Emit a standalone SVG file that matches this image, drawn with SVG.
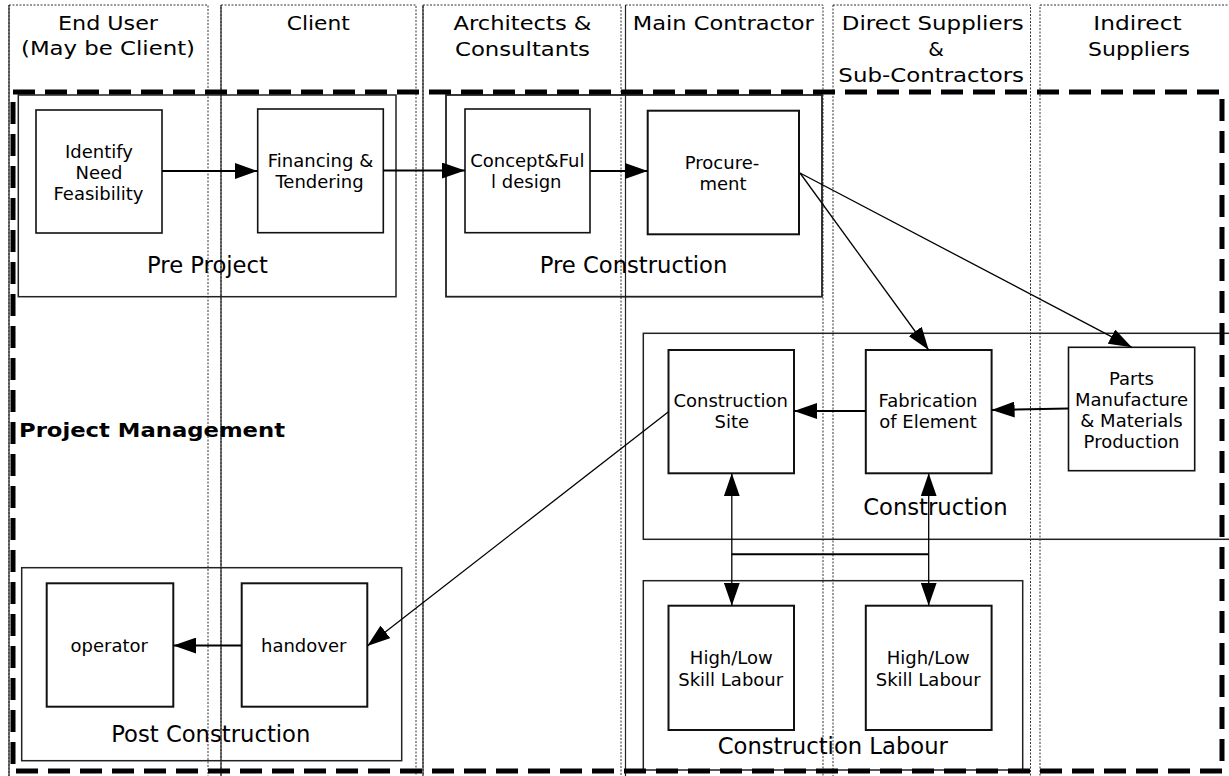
<svg xmlns="http://www.w3.org/2000/svg" width="1229" height="776" viewBox="0 0 1229 776">
<style>
text{font-family:"DejaVu Sans","Liberation Sans",sans-serif;fill:#000}
.hdr{font-size:20px;text-anchor:middle}
.nt{font-size:18px;text-anchor:middle}
.ct{font-size:22.7px;text-anchor:middle}
.pm{font-size:19px;font-weight:bold}
.lane{fill:none;stroke:#333;stroke-width:1;stroke-dasharray:2 1.5}
.lsolid{stroke:#222;stroke-width:1.2}
.cont{fill:none;stroke:#222;stroke-width:1.5}
.box{fill:none;stroke:#111;stroke-width:2}
.c{fill:none;stroke:#000}
.thick{stroke-width:2}
.thin{stroke-width:1.3}
.pmb{fill:none;stroke:#000;stroke-width:5;stroke-dasharray:22 10}
</style>
<defs>
<marker id="ah" markerUnits="userSpaceOnUse" viewBox="0 0 24 16" markerWidth="24" markerHeight="16" refX="23" refY="8" orient="auto-start-reverse">
<path d="M0,0 L23,8 L0,16 z" fill="#000"/>
</marker>
</defs>
<rect width="1229" height="776" fill="#fff"/>

<g id="lanes">
<g id="lane-end-user">
<rect class="lane" x="9" y="5" width="199" height="780"/>
<line class="lsolid" x1="9" y1="5" x2="9" y2="776"/>
<text class="hdr" x="108" y="30" textLength="100" lengthAdjust="spacingAndGlyphs">End User</text>
<text class="hdr" x="108" y="55" textLength="174" lengthAdjust="spacingAndGlyphs">(May be Client)</text>
</g>
<g id="lane-client">
<rect class="lane" x="221" y="5" width="195" height="780"/>
<line class="lsolid" x1="221" y1="5" x2="221" y2="776"/>
<text class="hdr" x="318.3" y="30" textLength="63" lengthAdjust="spacingAndGlyphs">Client</text>
</g>
<g id="lane-architects">
<rect class="lane" x="423" y="5" width="198" height="780"/>
<line class="lsolid" x1="423" y1="5" x2="423" y2="776"/>
<text class="hdr" x="522.5" y="30" textLength="138" lengthAdjust="spacingAndGlyphs">Architects &amp;</text>
<text class="hdr" x="522.5" y="56" textLength="135" lengthAdjust="spacingAndGlyphs">Consultants</text>
</g>
<g id="lane-main-contractor">
<rect class="lane" x="625.5" y="5" width="197.5" height="780"/>
<line class="lsolid" x1="625.5" y1="5" x2="625.5" y2="776"/>
<text class="hdr" x="723.3" y="30" textLength="181" lengthAdjust="spacingAndGlyphs">Main Contractor</text>
</g>
<g id="lane-direct-suppliers">
<rect class="lane" x="833" y="5" width="197.5" height="780"/>
<text class="hdr" x="932.8" y="30" textLength="182" lengthAdjust="spacingAndGlyphs">Direct Suppliers</text>
<text class="hdr" x="936" y="56">&amp;</text>
<text class="hdr" x="931.2" y="82" textLength="185.7" lengthAdjust="spacingAndGlyphs">Sub-Contractors</text>
</g>
<g id="lane-indirect-suppliers">
<rect class="lane" x="1040" y="5" width="195" height="780"/>
<text class="hdr" x="1137.5" y="30" textLength="88.3" lengthAdjust="spacingAndGlyphs">Indirect</text>
<text class="hdr" x="1139" y="56" textLength="102" lengthAdjust="spacingAndGlyphs">Suppliers</text>
</g>
</g>

<g id="pre-project">
<rect class="cont" x="18.3" y="95" width="377.7" height="201.7"/>
<text class="ct" x="207.5" y="272.7">Pre Project</text>
</g>
<g id="pre-construction">
<rect class="cont" x="446" y="95" width="376" height="201.7" style="stroke-width:1.8"/>
<text class="ct" x="633.5" y="272.7">Pre Construction</text>
</g>
<g id="construction">
<rect class="cont" x="643.3" y="333.3" width="600" height="206"/>
<text class="ct" x="935.4" y="515">Construction</text>
</g>
<g id="construction-labour">
<rect class="cont" x="643.3" y="580.7" width="379.4" height="189.3"/>
<text class="ct" x="832.8" y="754">Construction Labour</text>
</g>
<g id="post-construction">
<rect class="cont" x="21.7" y="567.7" width="380" height="193"/>
<text class="ct" x="210.8" y="741.7">Post Construction</text>
</g>

<g id="identify">
<rect class="box" x="36" y="110" width="126" height="123" style="stroke-width:1.6"/>
<text class="nt" x="99" y="158">Identify</text>
<text class="nt" x="99" y="179">Need</text>
<text class="nt" x="98.5" y="200">Feasibility</text>
</g>
<g id="financing">
<rect class="box" x="257.7" y="109" width="125.6" height="123.7" style="stroke-width:1.6"/>
<text class="nt" x="320.5" y="166.7">Financing &amp;</text>
<text class="nt" x="319.5" y="187.5">Tendering</text>
</g>
<g id="concept">
<rect class="box" x="465" y="109" width="125" height="123.7" style="stroke-width:1.6"/>
<text class="nt" x="527.3" y="167">Concept&amp;Ful</text>
<text class="nt" x="526.3" y="187.5">l design</text>
</g>
<g id="procurement">
<rect class="box" x="647.7" y="110.7" width="151.3" height="123.6"/>
<text class="nt" x="722" y="169">Procure-</text>
<text class="nt" x="723" y="190">ment</text>
</g>
<g id="construction-site">
<rect class="box" x="668.5" y="350" width="125.5" height="123.3"/>
<text class="nt" x="730.7" y="407.3">Construction</text>
<text class="nt" x="731.8" y="428.3">Site</text>
</g>
<g id="fabrication">
<rect class="box" x="865.8" y="350" width="125.8" height="123.3"/>
<text class="nt" x="928" y="407.3">Fabrication</text>
<text class="nt" x="928" y="428.3">of Element</text>
</g>
<g id="parts">
<rect class="box" x="1068.5" y="347.3" width="126.2" height="123.4" style="stroke-width:1.6"/>
<text class="nt" x="1131.5" y="385">Parts</text>
<text class="nt" x="1131.5" y="406">Manufacture</text>
<text class="nt" x="1131.5" y="426.7">&amp; Materials</text>
<text class="nt" x="1131.5" y="447.7">Production</text>
</g>
<g id="labour-1">
<rect class="box" x="668.5" y="605.7" width="125.5" height="124.3"/>
<text class="nt" x="731.3" y="664">High/Low</text>
<text class="nt" x="730.7" y="685.7">Skill Labour</text>
</g>
<g id="labour-2">
<rect class="box" x="865.8" y="605.7" width="125.8" height="124.3"/>
<text class="nt" x="928.2" y="664">High/Low</text>
<text class="nt" x="928.2" y="685.7">Skill Labour</text>
</g>
<g id="operator">
<rect class="box" x="46.7" y="583.3" width="126.6" height="123.4"/>
<text class="nt" x="109.2" y="651.7">operator</text>
</g>
<g id="handover">
<rect class="box" x="241.7" y="583.3" width="125.6" height="123.4"/>
<text class="nt" x="303.7" y="651.7">handover</text>
</g>

<g id="connectors">
<path class="c thick" d="M162,171 H257.7" marker-end="url(#ah)"/>
<path class="c thick" d="M383.3,170.5 H465" marker-end="url(#ah)"/>
<path class="c thick" d="M590,171 H647.7" marker-end="url(#ah)"/>
<path class="c thin" d="M800,173 L928.7,350" marker-end="url(#ah)"/>
<path class="c thin" d="M800,173 L1131.8,347.3" marker-end="url(#ah)"/>
<path class="c thick" d="M1068.5,408.5 L991.6,410" marker-end="url(#ah)"/>
<path class="c thick" d="M865.8,411 H794" marker-end="url(#ah)"/>
<path class="c thin" d="M668.5,411.7 L367.3,646" marker-end="url(#ah)"/>
<path class="c thick" d="M241.7,645.5 H173.3" marker-end="url(#ah)"/>
<path class="c thin" d="M731.8,473.3 V605.7" marker-start="url(#ah)" marker-end="url(#ah)"/>
<path class="c thin" d="M928.7,473.3 V605.7" marker-start="url(#ah)" marker-end="url(#ah)"/>
<path class="c thick" d="M731.8,554.3 H928.7"/>
</g>

<g id="project-management">
<rect class="pmb" x="13" y="92" width="1209" height="679"/>
<text class="pm" x="19" y="436.7" textLength="266" lengthAdjust="spacingAndGlyphs">Project Management</text>
</g>
</svg>
